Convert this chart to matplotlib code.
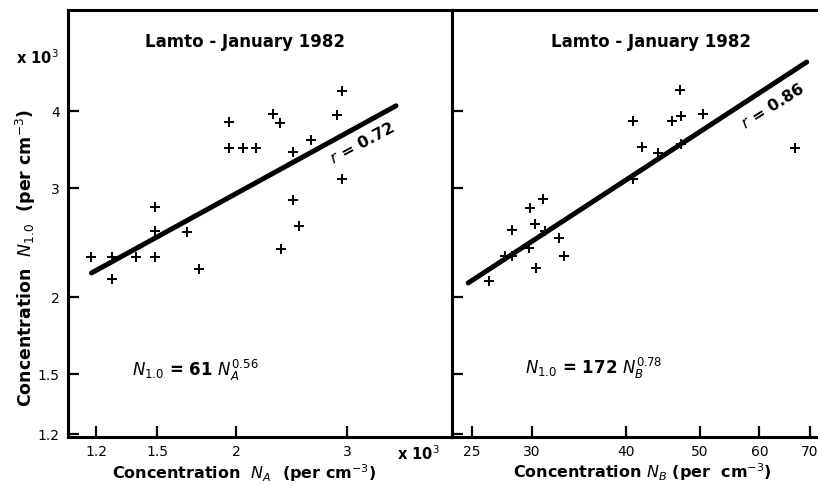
import numpy as np
import matplotlib
matplotlib.use("Agg")
import matplotlib.pyplot as plt
from matplotlib.ticker import FixedLocator, FixedFormatter, NullLocator

plt.rcParams['font.family'] = ['DejaVu Sans']
plt.rcParams['mathtext.fontset'] = 'dejavusans'

# ---- data (values in units of 10^3 per cm^3 for N_A and N_1.0) ----
na_x = [1.18, 1.27, 1.27, 1.39, 1.49, 1.49, 1.49, 1.67, 1.75, 1.95, 1.95, 2.05,
        2.15, 2.29, 2.35, 2.36, 2.46, 2.46, 2.52, 2.63, 2.89, 2.95, 2.95]
na_y = [2.32, 2.32, 2.14, 2.32, 2.32, 2.56, 2.80, 2.55, 2.22, 3.84, 3.49, 3.49,
        3.49, 3.96, 3.83, 2.39, 3.43, 2.87, 2.61, 3.59, 3.94, 4.31, 3.11]

nb_x = [26.3, 27.6, 28.2, 28.2, 29.7, 29.8, 30.3, 30.4, 31.0, 31.2, 32.6, 33.1,
        40.8, 40.8, 42.0, 44.1, 46.0, 47.3, 47.3, 47.1, 50.5, 66.9]
nb_y = [2.12, 2.33, 2.33, 2.57, 2.40, 2.79, 2.63, 2.23, 2.88, 2.56, 2.49, 2.33,
        3.11, 3.85, 3.50, 3.42, 3.85, 3.93, 3.54, 4.33, 3.96, 3.49]

# regression lines (power laws in plotted units), endpoints along x
fit_a_range = [1.18, 3.59]
fit_a_coef, fit_a_exp = 1.994, 0.56
fit_b_range = [24.7, 69.3]
fit_b_coef, fit_b_exp = 0.1631, 0.798

left_xticks = [1.2, 1.5, 2, 3]
left_xlabels = ['1.2', '1.5', '2', '3']
right_xticks = [25, 30, 40, 50, 60, 70]
right_xlabels = ['25', '30', '40', '50', '60', '70']
yticks = [1.2, 1.5, 2, 3, 4]
ylabels = ['1.2', '1.5', '2', '3', '4']

W, H = 818, 486
fig = plt.figure(figsize=(W / 100, H / 100), dpi=100)

def px_axes(x0, y0, x1, y1):
    return fig.add_axes([x0 / W, 1 - y1 / H, (x1 - x0) / W, (y1 - y0) / H])

axL = px_axes(68, 10, 452, 437)
axR = px_axes(452, 10, 818, 437)

for ax in (axL, axR):
    ax.set_xscale('log')
    ax.set_yscale('log')
    ax.set_ylim(1.187, 5.83)
    for s in ax.spines.values():
        s.set_linewidth(2.2)
    ax.tick_params(which='major', direction='in', length=8, width=1.6,
                   labelsize=10, pad=6)
    ax.xaxis.set_minor_locator(NullLocator())
    ax.yaxis.set_minor_locator(NullLocator())
    ax.yaxis.set_major_locator(FixedLocator(yticks))

axL.set_xlim(1.083, 4.405)
axR.set_xlim(23.51, 71.74)
axR.spines['right'].set_visible(False)

axL.xaxis.set_major_locator(FixedLocator(left_xticks))
axL.xaxis.set_major_formatter(FixedFormatter(left_xlabels))
axL.yaxis.set_major_formatter(FixedFormatter(ylabels))
axR.xaxis.set_major_locator(FixedLocator(right_xticks))
axR.xaxis.set_major_formatter(FixedFormatter(right_xlabels))
axR.yaxis.set_major_formatter(FixedFormatter([''] * len(yticks)))

mk = dict(marker='+', linestyle='none', color='black', markersize=7, markeredgewidth=1.4)
axL.plot(na_x, na_y, **mk)
axR.plot(nb_x, nb_y, **mk)

fx = np.array(fit_a_range)
axL.plot(fx, fit_a_coef * fx ** fit_a_exp, color='black', lw=3.6, solid_capstyle='round')
fx = np.array(fit_b_range)
axR.plot(fx, fit_b_coef * fx ** fit_b_exp, color='black', lw=3.6, solid_capstyle='round')

tkw = dict(fontsize=12, fontweight='bold', ha='center', va='center')
fig.text(245 / W, 1 - 42 / H, 'Lamto - January 1982', **tkw)
fig.text(651 / W, 1 - 42 / H, 'Lamto - January 1982', **tkw)

fig.text(362 / W, 1 - 143 / H, r'$r$ = 0.72', fontsize=11.5, fontweight='bold',
         rotation=28, ha='center', va='center')
fig.text(773 / W, 1 - 106 / H, r'$r$ = 0.86', fontsize=11.5, fontweight='bold',
         rotation=32, ha='center', va='center')

fig.text(195 / W, 1 - 370 / H, r'$\mathit{N}_{1.0}$ = 61 $\mathit{N}_A^{0.56}$',
         fontsize=12, fontweight='bold', ha='center', va='center')
fig.text(594 / W, 1 - 368 / H, r'$\mathit{N}_{1.0}$ = 172 $\mathit{N}_B^{0.78}$',
         fontsize=12, fontweight='bold', ha='center', va='center')

fig.text(37 / W, 1 - 58 / H, r'x 10$^3$', fontsize=10.5, fontweight='bold',
         ha='center', va='center')
fig.text(418 / W, 1 - 454 / H, r'x 10$^3$', fontsize=10.5, fontweight='bold',
         ha='center', va='center')

fig.text(26 / W, 1 - 258 / H, r'Concentration  $\mathit{N}_{1.0}$  (per cm$^{-3}$)',
         fontsize=12.5, fontweight='bold', rotation=90, ha='center', va='center')
fig.text(244 / W, 1 - 473 / H, r'Concentration  $\mathit{N}_A$  (per cm$^{-3}$)',
         fontsize=11.5, fontweight='bold', ha='center', va='center')
fig.text(642 / W, 1 - 472 / H, r'Concentration $\mathit{N}_B$ (per  cm$^{-3}$)',
         fontsize=11.5, fontweight='bold', ha='center', va='center')

fig.savefig('out.png', dpi=100)
